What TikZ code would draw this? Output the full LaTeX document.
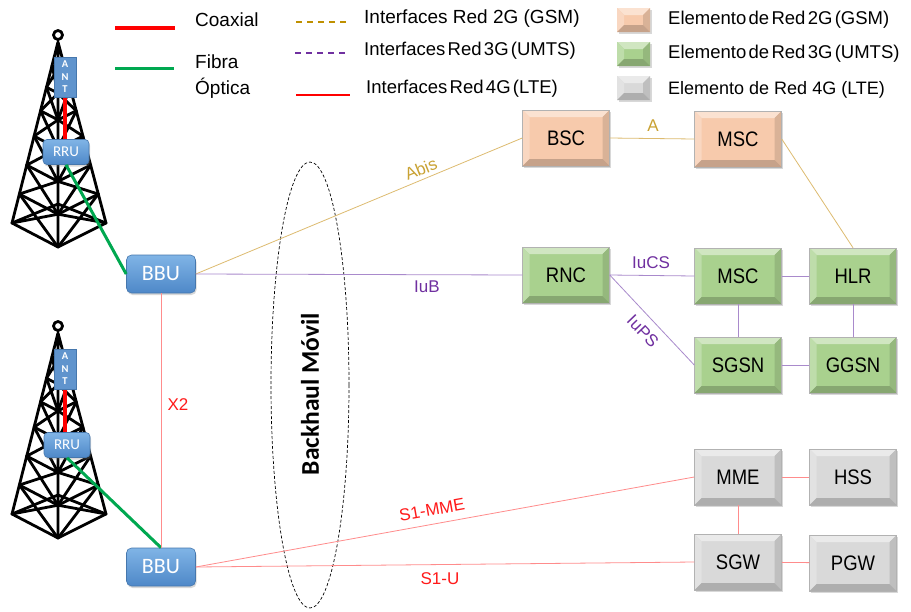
\documentclass[tikz,border=0pt]{standalone}
\usepackage{fontspec}
\setmainfont{Liberation Sans}
\newfontfamily\calib{Carlito}
\newfontfamily\nodefont[FakeStretch=0.88]{Liberation Sans}
\newfontfamily\tightfont[WordSpace=0.45]{Liberation Sans}
\usetikzlibrary{calc,shadows}

\definecolor{gsmface}{HTML}{F7CAAC}
\definecolor{umtsface}{HTML}{A9D18E}
\definecolor{lteface}{HTML}{D9D9D9}
\definecolor{gsmline}{HTML}{DDBB70}
\definecolor{gsmtext}{HTML}{C9A233}
\definecolor{gsmdash}{HTML}{BF9000}
\definecolor{umtsline}{HTML}{A98ACC}
\definecolor{umtstext}{HTML}{7030A0}
\definecolor{lteline}{HTML}{FF8C8C}
\definecolor{ltetext}{HTML}{FF1A1A}
\definecolor{coax}{HTML}{FF0000}
\definecolor{fiber}{HTML}{00A850}
\definecolor{bbutop}{HTML}{80B4E6}
\definecolor{bbubot}{HTML}{4E88C8}
\definecolor{bbuedge}{HTML}{4677AD}

\newcommand\bvl{7}

\tikzset{
  bevel/.style={fill=#1, draw=black!30, line width=0.5pt,
    minimum width=87pt, minimum height=56pt, inner sep=0pt,
    font=\nodefont\fontsize{21}{22}\selectfont, text=black,
    drop shadow={shadow xshift=1.5pt, shadow yshift=-2pt, opacity=0.3},
    path picture={
      \coordinate (pp-a) at (path picture bounding box.north west);
      \coordinate (pp-b) at (path picture bounding box.north east);
      \coordinate (pp-c) at (path picture bounding box.south east);
      \coordinate (pp-d) at (path picture bounding box.south west);
      \coordinate (pp-A) at ($(pp-a)+(\bvl,\bvl)$);
      \coordinate (pp-B) at ($(pp-b)+(-\bvl,\bvl)$);
      \coordinate (pp-C) at ($(pp-c)+(-\bvl,-\bvl)$);
      \coordinate (pp-D) at ($(pp-d)+(\bvl,-\bvl)$);
      \fill[#1!55!white] (pp-a)--(pp-b)--(pp-B)--(pp-A)--cycle;
      \fill[#1!75!white] (pp-a)--(pp-A)--(pp-D)--(pp-d)--cycle;
      \fill[#1!88!black] (pp-b)--(pp-c)--(pp-C)--(pp-B)--cycle;
      \fill[#1!80!black] (pp-d)--(pp-D)--(pp-C)--(pp-c)--cycle;
    }},
  legbox/.style={bevel=#1, minimum width=33pt, minimum height=24pt, draw=none},
  bbu/.style={rounded corners=5pt, draw=bbuedge, line width=0.6pt,
    top color=bbutop, bottom color=bbubot, text=white, inner sep=0pt,
    minimum width=69pt, minimum height=38pt, font=\calib\fontsize{22}{22}\selectfont,
    drop shadow={shadow xshift=1pt, shadow yshift=-2pt, opacity=0.3}},
  rru/.style={bbu, rounded corners=4pt, minimum width=46pt, minimum height=25pt,
    font=\calib\fontsize{15}{15}\selectfont},
  ant/.style={fill=bbubot!90, draw=bbuedge, line width=0.6pt, inner sep=0pt,
    minimum width=22pt, minimum height=40pt, text=white, align=center,
    font=\calib\bfseries\fontsize{10.5}{12.5}\selectfont},
  gsm/.style={draw=gsmline, line width=0.8pt},
  umts/.style={draw=umtsline, line width=0.8pt},
  lte/.style={draw=lteline, line width=0.8pt},
  coaxline/.style={draw=coax, line width=3.5pt},
  fiberline/.style={draw=fiber, line width=3pt},
  lbl/.style={font=\fontsize{17}{18}\selectfont, inner sep=0pt},
  legtext/.style={font=\fontsize{19}{20}\selectfont, anchor=west, inner sep=0pt},
  legtight/.style={font=\tightfont\fontsize{18.5}{20}\selectfont, anchor=west, inner sep=0pt},
  towerline/.style={draw=black, line width=2.8pt, line join=round, line cap=round},
  tower/.pic={
    \draw[towerline] (0,-7) circle (4.5);
    \draw[towerline] (0,-2.5) -- (0,0);
    \draw[towerline] (0,0) -- (-46,181) (0,0) -- (0,205) (0,0) -- (48,181);
    \draw[towerline] ({-46*0.13},{181*0.13}) -- (0,{205*0.13}) -- ({48*0.13},{181*0.13});
    \foreach \a/\b in {0.13/0.25,0.25/0.38,0.38/0.52,0.52/0.68,0.68/0.84,0.84/1}{
      \draw[towerline] ({-46*\b},{181*\b}) -- (0,{205*\b}) -- ({48*\b},{181*\b});
      \draw[towerline] ({-46*\a},{181*\a}) -- (0,{205*\b})
                       (0,{205*\a}) -- ({-46*\b},{181*\b})
                       ({48*\a},{181*\a}) -- (0,{205*\b})
                       (0,{205*\a}) -- ({48*\b},{181*\b});
    }
    \draw[towerline] (-46,181) -- (0,162) -- (48,181);
  }
}

\begin{document}
\begin{tikzpicture}[x=1pt,y=-1pt]
\useasboundingbox[fill=white] (0,0) rectangle (911,611);

% ---------- towers ----------
\path (58,42) pic {tower};
\path (58,333) pic {tower};

% ---------- legend ----------
\coordinate (lc1) at (115,28);  \coordinate (lc2) at (175,28);
\coordinate (lf1) at (115,68);  \coordinate (lf2) at (174,68);
\draw[coaxline] (lc1) -- (lc2);
\draw[fiberline] (lf1) -- (lf2);
\node[legtext] (tcoax) at (195,20) {Coaxial};
\node[legtext] (tfib1) at (195,62) {Fibra};
\node[legtext] (tfib2) at (195,88) {Óptica};

\coordinate (ld1) at (296,22); \coordinate (ld2) at (346,22);
\coordinate (le1) at (295,53); \coordinate (le2) at (345,53);
\coordinate (lg1) at (296,95); \coordinate (lg2) at (350,95);
\draw[gsmdash, line width=1.8pt, dash pattern=on 6pt off 5pt] (ld1) -- (ld2);
\draw[umtstext, line width=1.4pt, dash pattern=on 6pt off 5pt] (le1) -- (le2);
\draw[coax, line width=2pt] (lg1) -- (lg2);
\node[legtext] (t2g) at (364,19) {Interfaces Red 2G (GSM)};
\node[legtight] (t3g) at (364,51) {Interfaces Red 3G (UMTS)};
\node[legtight] (t4g) at (366,89) {Interfaces Red 4G (LTE)};

\node[legbox=gsmface]  (b2g) at (633.5,20) {};
\node[legbox=umtsface] (b3g) at (633.5,54) {};
\node[legbox=lteface]  (b4g) at (633.5,88) {};
\node[legtight] (e2g) at (668,20) {Elemento de Red 2G (GSM)};
\node[legtight] (e3g) at (668,54) {Elemento de Red 3G (UMTS)};
\node[legtext, font=\fontsize{18}{20}\selectfont] (e4g) at (668,90) {Elemento de Red 4G (LTE)};

% ---------- backhaul ----------
\draw[black, line width=0.7pt, dash pattern=on 3pt off 2pt] (310,385) ellipse [x radius=39, y radius=223];
\node[rotate=90, font=\calib\bfseries\fontsize{25.5}{26}\selectfont] (bh) at (310,394) {Backhaul Móvil};

% ---------- coaxial feeders ----------
\coordinate (ant1b) at (65,97);  \coordinate (rru1t) at (65,140);
\draw[coaxline] (ant1b) -- (rru1t);
\coordinate (ant2b) at (65,390); \coordinate (rru2t) at (65,433);
\draw[coaxline] (ant2b) -- (rru2t);

% ---------- network elements ----------
\node[bevel=gsmface] (bsc) at (566,138) {BSC};
\node[bevel=gsmface] (msc2) at (738,139) {MSC};
\node[bevel=umtsface] (rnc) at (566,275) {RNC};
\node[bevel=umtsface] (msc3) at (738,276) {MSC};
\node[bevel=umtsface] (hlr) at (853,276) {HLR};
\node[bevel=umtsface] (sgsn) at (738,365) {SGSN};
\node[bevel=umtsface] (ggsn) at (853,365) {GGSN};
\node[bevel=lteface] (mme) at (738,477) {MME};
\node[bevel=lteface] (hss) at (853,477) {HSS};
\node[bevel=lteface] (sgw) at (738,562) {SGW};
\node[bevel=lteface] (pgw) at (853,563) {PGW};

% ---------- radio units ----------
\node[ant] (ant1) at (65,77) {A\\N\\T};
\node[ant] (ant2) at (65,369) {A\\N\\T};
\node[rru] (rru1) at (66,152) {RRU};
\node[rru] (rru2) at (67,445) {RRU};
\node[bbu] (bbu1) at (161,274) {BBU};
\node[bbu] (bbu2) at (161,567) {BBU};

% ---------- links ----------
\draw[fiberline] (rru1.south) -- (bbu1.west);
\draw[fiberline] (rru2.south) -- (bbu2.north);

\draw[gsm] (bbu1.east) -- (bsc.west);
\node[lbl, text=gsmtext, rotate=22] (labis) at (421,169) {Abis};
\draw[gsm] (bsc.east) -- (msc2.west);
\node[lbl, text=gsmtext] (la) at (653,126) {A};
\draw[gsm] (msc2.east) -- (hlr.north);

\draw[umts] (bbu1.east) -- (rnc.west);
\node[lbl, text=umtstext] (liub) at (427,287) {IuB};
\draw[umts] (rnc.east) -- (msc3.west);
\node[lbl, text=umtstext] (liucs) at (651,263) {IuCS};
\draw[umts] (rnc.east) -- (sgsn.west);
\node[lbl, text=umtstext, rotate=-46] (liups) at (643,331) {IuPS};
\draw[umts] (msc3) -- (hlr);
\draw[umts] (msc3) -- (sgsn);
\draw[umts] (hlr) -- (ggsn);
\draw[umts] (sgsn) -- (ggsn);

\draw[lte] (bbu1.south) -- (bbu2.north);
\node[lbl, text=ltetext] (lx2) at (178,405) {X2};
\draw[lte] (bbu2.east) -- (mme.west);
\node[lbl, text=ltetext, rotate=10] (ls1m) at (432,510) {S1-MME};
\draw[lte] (bbu2.east) -- (sgw.west);
\node[lbl, text=ltetext] (ls1u) at (440,579) {S1-U};
\draw[lte] (mme) -- (hss);
\draw[lte] (mme) -- (sgw);
\draw[lte] (sgw) -- (pgw);
\end{tikzpicture}
\end{document}
